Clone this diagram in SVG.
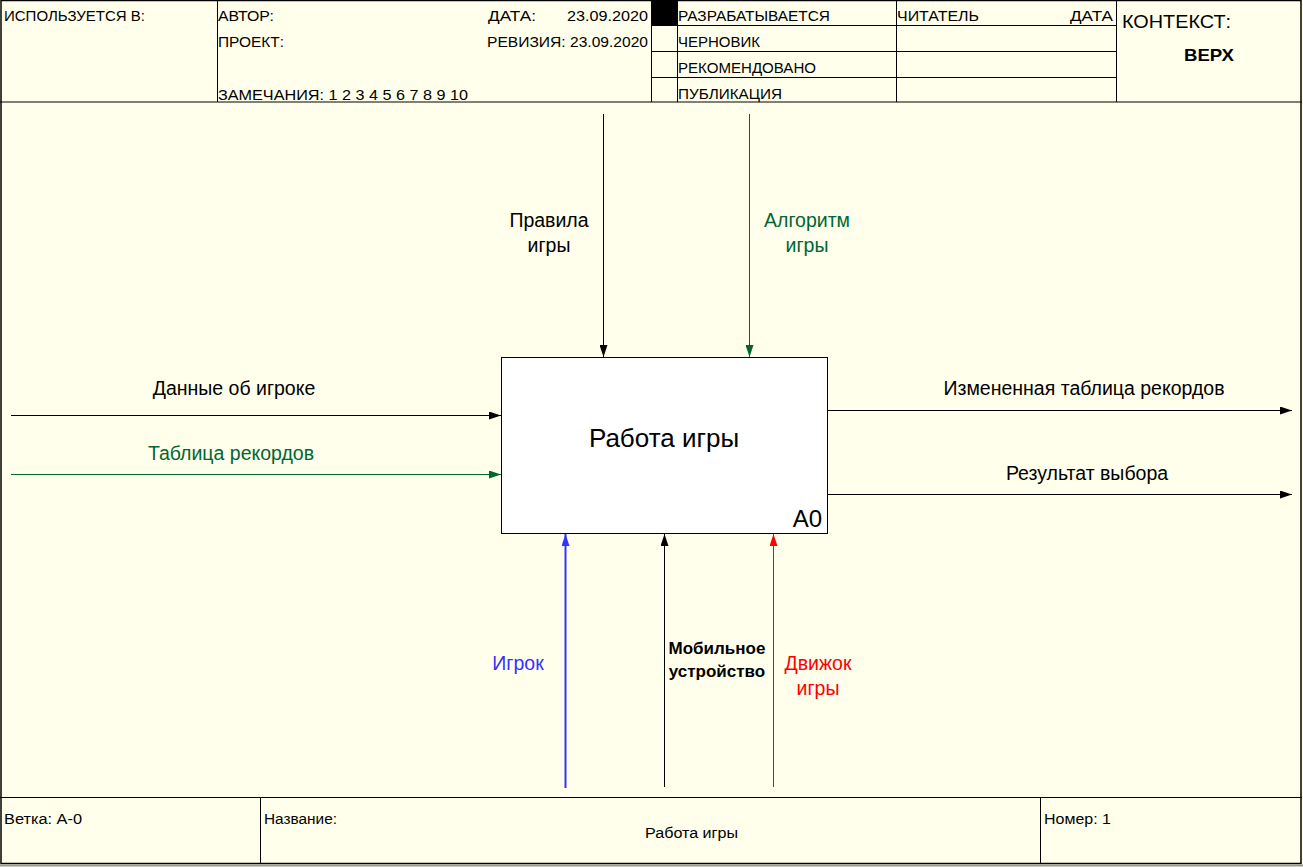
<svg xmlns="http://www.w3.org/2000/svg" width="1303" height="867" viewBox="0 0 1303 867">
<style>
.frame{fill:none;stroke:#000;stroke-width:1.5}
.ln{stroke:#000;stroke-width:1;fill:none}
.ht{font-family:"Liberation Sans",Arial,sans-serif;font-size:14px;fill:#000}
.lb{font-family:"Liberation Sans",Arial,sans-serif;font-size:19.5px;fill:#000;text-anchor:middle}
.lbs{font-size:17px;font-weight:bold}
.g{fill:#006633}
.b{fill:#3333FF}
.r{fill:#FF0000}
</style>
<defs>
<marker id="ak" viewBox="0 0 12 8" refX="12" refY="4" markerWidth="12" markerHeight="8" markerUnits="userSpaceOnUse" orient="auto"><path d="M0,0 L12,4 L0,8 Z" fill="#000"/></marker>
<marker id="ag" viewBox="0 0 12 8" refX="12" refY="4" markerWidth="12" markerHeight="8" markerUnits="userSpaceOnUse" orient="auto"><path d="M0,0 L12,4 L0,8 Z" fill="#006633"/></marker>
<marker id="ab" viewBox="0 0 12 8" refX="12" refY="4" markerWidth="12" markerHeight="8" markerUnits="userSpaceOnUse" orient="auto"><path d="M0,0 L12,4 L0,8 Z" fill="#3333FF"/></marker>
<marker id="ar" viewBox="0 0 12 8" refX="12" refY="4" markerWidth="12" markerHeight="8" markerUnits="userSpaceOnUse" orient="auto"><path d="M0,0 L12,4 L0,8 Z" fill="#FF0000"/></marker>
</defs>
<rect x="0" y="0" width="1303" height="867" fill="#FFFFEC"/>
<g id="frame">
<rect class="frame" x="1" y="0.5" width="1300" height="863"/>
<line x1="0" y1="865.5" x2="1303" y2="865.5" stroke="#999" stroke-width="2"/>
</g>
<g id="header">
<line class="ln" x1="0" y1="102" x2="1302" y2="102"/>
<line class="ln" x1="217.5" y1="0" x2="217.5" y2="102"/>
<line class="ln" x1="651.5" y1="0" x2="651.5" y2="102"/>
<line class="ln" x1="677.5" y1="0" x2="677.5" y2="102"/>
<line class="ln" x1="896.5" y1="0" x2="896.5" y2="102"/>
<line class="ln" x1="1116.5" y1="0" x2="1116.5" y2="102"/>
<line class="ln" x1="651" y1="25.5" x2="1116" y2="25.5"/>
<line class="ln" x1="651" y1="51.5" x2="1116" y2="51.5"/>
<line class="ln" x1="651" y1="77.5" x2="1116" y2="77.5"/>
<rect x="651" y="0" width="26" height="25" fill="#000"/>
<text class="ht" x="4" y="21" textLength="141" lengthAdjust="spacingAndGlyphs">ИСПОЛЬЗУЕТСЯ В:</text>
<text class="ht" x="218" y="21" textLength="56" lengthAdjust="spacingAndGlyphs">АВТОР:</text>
<text class="ht" x="218" y="47" textLength="66" lengthAdjust="spacingAndGlyphs">ПРОЕКТ:</text>
<text class="ht" x="218" y="100" textLength="250" lengthAdjust="spacingAndGlyphs">ЗАМЕЧАНИЯ:  1 2 3 4 5 6 7 8 9 10</text>
<text class="ht" x="488" y="21" textLength="48" lengthAdjust="spacingAndGlyphs">ДАТА:</text>
<text class="ht" x="567" y="21" textLength="81" lengthAdjust="spacingAndGlyphs">23.09.2020</text>
<text class="ht" x="487" y="47" textLength="161" lengthAdjust="spacingAndGlyphs">РЕВИЗИЯ: 23.09.2020</text>
<text class="ht" x="678" y="21" textLength="152" lengthAdjust="spacingAndGlyphs">РАЗРАБАТЫВАЕТСЯ</text>
<text class="ht" x="678" y="47" textLength="82" lengthAdjust="spacingAndGlyphs">ЧЕРНОВИК</text>
<text class="ht" x="678" y="73" textLength="138" lengthAdjust="spacingAndGlyphs">РЕКОМЕНДОВАНО</text>
<text class="ht" x="678" y="99" textLength="104" lengthAdjust="spacingAndGlyphs">ПУБЛИКАЦИЯ</text>
<text class="ht" x="897" y="21" textLength="82" lengthAdjust="spacingAndGlyphs">ЧИТАТЕЛЬ</text>
<text class="ht" x="1070" y="21" textLength="43" lengthAdjust="spacingAndGlyphs">ДАТА</text>
<text x="1122" y="28" font-family="Liberation Sans,Arial,sans-serif" font-size="19" textLength="109" lengthAdjust="spacingAndGlyphs">КОНТЕКСТ:</text>
<text x="1184" y="61" font-family="Liberation Sans,Arial,sans-serif" font-size="17" font-weight="bold" textLength="50" lengthAdjust="spacingAndGlyphs">ВЕРХ</text>
</g>
<g id="footer">
<line class="ln" x1="0" y1="797.5" x2="1302" y2="797.5"/>
<line class="ln" x1="260.5" y1="797" x2="260.5" y2="863"/>
<line class="ln" x1="1040.5" y1="797" x2="1040.5" y2="863"/>
<text class="ht" x="4" y="824" textLength="78" lengthAdjust="spacingAndGlyphs">Ветка: А-0</text>
<text class="ht" x="264" y="824" textLength="73" lengthAdjust="spacingAndGlyphs">Название:</text>
<text class="ht" x="645" y="838" textLength="93" lengthAdjust="spacingAndGlyphs">Работа игры</text>
<text class="ht" x="1044" y="824" textLength="67" lengthAdjust="spacingAndGlyphs">Номер: 1</text>
</g>
<g id="A0">
<rect x="501.5" y="357.5" width="326" height="176" fill="#FFFFFF" stroke="#000" stroke-width="1"/>
<text x="664" y="447" font-family="Liberation Sans,Arial,sans-serif" font-size="26" text-anchor="middle">Работа игры</text>
<text x="822" y="527" font-family="Liberation Sans,Arial,sans-serif" font-size="24" text-anchor="end">A0</text>
</g>
<g id="connectors">
<line x1="603.5" y1="114" x2="603.5" y2="357" stroke="#000" stroke-width="1" marker-end="url(#ak)"/>
<line x1="749.5" y1="114" x2="749.5" y2="357" stroke="#006633" stroke-width="1" marker-end="url(#ag)"/>
<line x1="11" y1="415.5" x2="501" y2="415.5" stroke="#000" stroke-width="1" marker-end="url(#ak)"/>
<line x1="11" y1="474.5" x2="501" y2="474.5" stroke="#006633" stroke-width="1" marker-end="url(#ag)"/>
<line x1="828" y1="410.5" x2="1292" y2="410.5" stroke="#000" stroke-width="1" marker-end="url(#ak)"/>
<line x1="828" y1="494.5" x2="1292" y2="494.5" stroke="#000" stroke-width="1" marker-end="url(#ak)"/>
<line x1="565.5" y1="788" x2="565.5" y2="534" stroke="#3333FF" stroke-width="2" marker-end="url(#ab)"/>
<line x1="664.5" y1="787" x2="664.5" y2="534" stroke="#000" stroke-width="1" marker-end="url(#ak)"/>
<line x1="773.5" y1="787" x2="773.5" y2="534" stroke="#FF0000" stroke-width="1" marker-end="url(#ar)"/>
</g>
<g id="labels">
<text class="lb" x="549" y="227">Правила</text>
<text class="lb" x="549" y="252">игры</text>
<text class="lb g" x="807" y="227">Алгоритм</text>
<text class="lb g" x="807" y="252">игры</text>
<text class="lb" x="234" y="395">Данные об игроке</text>
<text class="lb g" x="231" y="460">Таблица рекордов</text>
<text class="lb" x="1084" y="395">Измененная таблица рекордов</text>
<text class="lb" x="1087" y="480">Результат выбора</text>
<text class="lb b" x="518" y="670">Игрок</text>
<text class="lb lbs" x="717" y="654">Мобильное</text>
<text class="lb lbs" x="717" y="677">устройство</text>
<text class="lb r" x="818" y="670">Движок</text>
<text class="lb r" x="818" y="695">игры</text>
</g>
</svg>
